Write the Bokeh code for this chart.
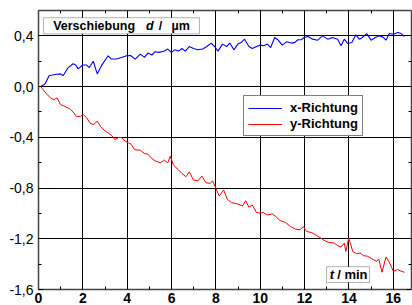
from bokeh.plotting import figure
from bokeh.models import (Range1d, FixedTicker, LinearAxis, Label, BoxAnnotation,
                          Legend, LegendItem, Grid)
from bokeh.embed import file_html
from bokeh.resources import INLINE

# ---- data ----
t_x = [0.1, 0.29, 0.48, 0.81, 1.0, 1.11, 1.34, 1.56, 1.68, 1.79, 1.99, 2.17, 2.29, 2.47,
       2.65, 2.84, 3.14, 3.29, 3.52, 3.74, 3.97, 4.15, 4.36, 4.59, 4.78, 4.93, 5.11, 5.26,
       5.44, 5.68, 5.83, 5.99, 6.14, 6.32, 6.47, 6.62, 6.8, 6.99, 7.19, 7.4, 7.59, 7.79,
       7.94, 8.09, 8.3, 8.48, 8.63, 8.81, 8.99, 9.14, 9.29, 9.49, 9.64, 9.83, 10.01, 10.16,
       10.32, 10.47, 10.65, 10.8, 10.99, 11.19, 11.4, 11.55, 11.7, 11.85, 11.97, 12.15,
       12.36, 12.59, 12.81, 13.04, 13.26, 13.49, 13.64, 13.79, 13.94, 14.13, 14.31, 14.47,
       14.6, 14.8, 15.0, 15.19, 15.37, 15.52, 15.67, 15.82, 16.0, 16.2, 16.35, 16.5]
d_x = [0.0, 0.02, 0.086, 0.097, 0.1, 0.086, 0.15, 0.18, 0.17, 0.14, 0.17, 0.17, 0.15, 0.2,
       0.1, 0.165, 0.243, 0.217, 0.217, 0.23, 0.243, 0.245, 0.217, 0.256, 0.23, 0.264, 0.249,
       0.275, 0.27, 0.28, 0.296, 0.27, 0.29, 0.28, 0.3, 0.28, 0.316, 0.3, 0.29, 0.296, 0.316,
       0.343, 0.316, 0.28, 0.335, 0.316, 0.343, 0.29, 0.335, 0.347, 0.374, 0.316, 0.3, 0.316,
       0.327, 0.322, 0.335, 0.308, 0.387, 0.369, 0.327, 0.353, 0.343, 0.347, 0.369, 0.369,
       0.387, 0.395, 0.374, 0.366, 0.4, 0.374, 0.387, 0.374, 0.322, 0.374, 0.34, 0.347, 0.408,
       0.374, 0.387, 0.418, 0.366, 0.387, 0.4, 0.392, 0.366, 0.418, 0.413, 0.426, 0.418, 0.395]

t_y = [0.1, 0.36, 0.54, 0.69, 0.84, 0.99, 1.19, 1.41, 1.56, 1.71, 1.89, 2.02, 2.17, 2.35,
       2.5, 2.65, 2.8, 3.0, 3.15, 3.29, 3.45, 3.6, 3.74, 3.9, 4.06, 4.18, 4.33, 4.59, 4.78,
       4.93, 5.11, 5.26, 5.49, 5.68, 5.83, 5.94, 6.09, 6.29, 6.47, 6.65, 6.8, 6.99, 7.19,
       7.37, 7.55, 7.75, 7.85, 8.0, 8.15, 8.35, 8.52, 8.7, 8.97, 9.2, 9.34, 9.49, 9.64, 9.83,
       9.98, 10.13, 10.32, 10.55, 10.7, 10.89, 11.14, 11.37, 11.59, 11.79, 11.94, 12.09, 12.3,
       12.5, 12.66, 12.96, 13.11, 13.34, 13.49, 13.64, 13.79, 13.86, 13.99, 14.17, 14.35, 14.5,
       14.65, 14.84, 15.04, 15.25, 15.34, 15.49, 15.67, 15.82, 16.0, 16.2, 16.35, 16.5]
d_y = [0.0, -0.057, -0.089, -0.104, -0.089, -0.141, -0.157, -0.175, -0.2, -0.235, -0.235,
       -0.22, -0.246, -0.293, -0.298, -0.272, -0.314, -0.35, -0.366, -0.384, -0.418, -0.402,
       -0.402, -0.429, -0.444, -0.455, -0.497, -0.502, -0.528, -0.533, -0.567, -0.586, -0.601,
       -0.58, -0.601, -0.549, -0.62, -0.653, -0.685, -0.711, -0.672, -0.737, -0.743, -0.706,
       -0.758, -0.763, -0.743, -0.802, -0.863, -0.816, -0.889, -0.915, -0.925, -0.941, -0.9,
       -0.951, -0.933, -0.993, -0.998, -0.993, -1.012, -1.004, -1.025, -1.056, -1.072, -1.104,
       -1.124, -1.129, -1.104, -1.143, -1.15, -1.169, -1.187, -1.221, -1.229, -1.234, -1.255,
       -1.265, -1.234, -1.3, -1.195, -1.3, -1.318, -1.312, -1.333, -1.338, -1.359, -1.378,
       -1.359, -1.464, -1.343, -1.385, -1.456, -1.443, -1.456, -1.464]

x_ticks = [0, 2, 4, 6, 8, 10, 12, 14, 16]
x_tick_labels = ["0", "2", "4", "6", "8", "10", "12", "14", "16"]
x_minor = [1, 3, 5, 7, 9, 11, 13, 15]
y_ticks = [-1.6, -1.2, -0.8, -0.4, 0.0, 0.4]
y_tick_labels = ["-1,6", "-1,2", "-0,8", "-0,4", "0,0", "0,4"]
y_minor = [-1.4, -1.0, -0.6, -0.2, 0.2]
series_labels = ["x-Richtung", "y-Richtung"]

FONT = "Liberation Sans"
AXIS_COLOR = "#444444"

p = figure(width=412, height=305, x_range=Range1d(0, 16.82), y_range=Range1d(-1.6, 0.6),
           output_backend="svg", toolbar_location=None,
           min_border_left=38, min_border_right=1, min_border_top=10, min_border_bottom=16)
p.background_fill_color = "white"
p.border_fill_color = "white"
p.outline_line_color = None
p.xgrid.visible = False
p.ygrid.visible = False

xt = FixedTicker(ticks=x_ticks, minor_ticks=x_minor)
yt = FixedTicker(ticks=y_ticks, minor_ticks=y_minor)

p.add_layout(Grid(dimension=0, ticker=xt, grid_line_color="black", grid_line_width=1))
p.add_layout(Grid(dimension=1, ticker=yt, grid_line_color="black", grid_line_width=1))


def style_axis(ax):
    ax.axis_line_color = AXIS_COLOR
    ax.axis_line_width = 1.5
    ax.major_tick_in = 5
    ax.major_tick_out = 0
    ax.minor_tick_in = 3
    ax.minor_tick_out = 0
    ax.major_tick_line_color = "black"
    ax.minor_tick_line_color = "black"


xa = p.xaxis[0]
xa.ticker = xt
xa.major_label_overrides = dict(zip(x_ticks, x_tick_labels))
xa.major_label_text_font = FONT
xa.major_label_text_font_size = "14px"
xa.major_label_text_font_style = "bold"
xa.major_label_text_color = "black"
xa.major_label_standoff = 3
style_axis(xa)

ya = p.yaxis[0]
ya.ticker = yt
ya.major_label_overrides = dict(zip(y_ticks, y_tick_labels))
ya.major_label_text_font = FONT
ya.major_label_text_font_size = "14px"
ya.major_label_text_color = "black"
ya.major_label_standoff = 5
style_axis(ya)

for place, tk in (("above", xt), ("right", yt)):
    ax = LinearAxis(ticker=tk, major_label_text_font_size="1px", major_label_standoff=0,
                    major_label_text_color=None)
    style_axis(ax)
    p.add_layout(ax, place)

rb = p.line(t_x, d_x, line_color="#0000ff", line_width=1.1)
rr = p.line(t_y, d_y, line_color="#ff0000", line_width=1.0)

# title box "Verschiebung d / µm"
p.add_layout(BoxAnnotation(left=0.23, right=7.26, top=0.543, bottom=0.416,
                           fill_color="white", fill_alpha=1.0,
                           line_color="black", line_width=1))
ty = 0.48
for xx, txt, sty in ((0.66, "Verschiebung", "bold"), (4.85, "d", "bold italic"),
                     (5.42, "/", "bold"), (6.0, "µm", "bold")):
    p.add_layout(Label(x=xx, y=ty, text=txt, text_font=FONT, text_font_size="12.5px",
                       text_font_style=sty, text_baseline="middle", text_align="left",
                       text_color="black"))

# x-axis title box "t / min"
p.add_layout(BoxAnnotation(left=12.99, right=14.93, top=-1.42, bottom=-1.545,
                           fill_color="white", fill_alpha=1.0,
                           line_color="black", line_width=1))
for xx, txt, sty in ((13.13, "t", "bold italic"), (13.47, "/ min", "bold")):
    p.add_layout(Label(x=xx, y=-1.482, text=txt, text_font=FONT, text_font_size="13px",
                       text_font_style=sty, text_baseline="middle", text_align="left",
                       text_color="black"))

legend = Legend(items=[LegendItem(label=series_labels[0], renderers=[rb]),
                       LegendItem(label=series_labels[1], renderers=[rr])],
                location=(205, 153), border_line_color="black", border_line_width=1,
                background_fill_color="white", background_fill_alpha=1.0,
                label_text_font=FONT, label_text_font_size="13px",
                label_text_font_style="bold", label_text_color="black",
                glyph_width=34, glyph_height=14, label_height=14, label_standoff=8,
                padding=4, spacing=1, margin=0)
p.add_layout(legend)

open("out.html", "w").write(file_html(p, INLINE))
